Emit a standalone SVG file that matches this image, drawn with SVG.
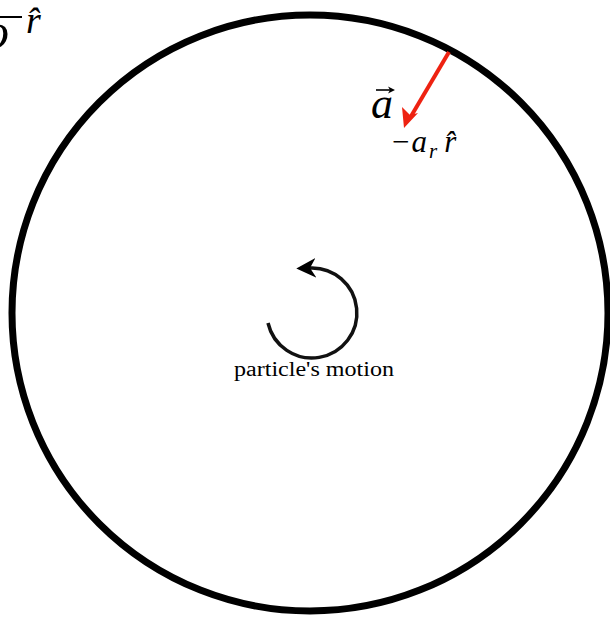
<svg xmlns="http://www.w3.org/2000/svg" width="610" height="620" viewBox="0 0 610 620">
<defs>
<style>
.m{font-family:"Liberation Serif","DejaVu Serif",serif;font-style:italic;fill:#000}
.t{font-family:"Liberation Serif","DejaVu Serif",serif;fill:#000}
</style>
<marker id="ah" viewBox="0 0 10 10" refX="3" refY="5" markerWidth="5.6" markerHeight="5.6" orient="auto" markerUnits="strokeWidth">
<path d="M0,0 L10,5 L0,10 L3,5 z" fill="#000"/>
</marker>
</defs>
<rect width="610" height="620" fill="#fff"/>
<g id="orbit">
<circle cx="310" cy="313" r="298" fill="none" stroke="#000" stroke-width="7"/>
</g>
<g id="topleft">
<text class="m" x="-16" y="48" font-size="50">o</text>
<line x1="0" y1="17" x2="22" y2="17" stroke="#000" stroke-width="2"/>
<text class="m" x="26" y="33" font-size="38">r̂</text>
</g>
<g id="connectors">
<line x1="449" y1="52" x2="410" y2="118" stroke="#ee2211" stroke-width="4"/>
<path d="M268 323 A45 45 0 1 0 310 268" fill="none" stroke="#111" stroke-width="3.5" marker-end="url(#ah)"/>
</g>
<g id="accel">
<path d="M404 128 L402 107 L410 115 L418 113 z" fill="#ee2211"/>
<line x1="376" y1="90" x2="393" y2="90" stroke="#000" stroke-width="1.6"/>
<path d="M395 90 L388 86.5 L390 90 L388 93.5 z" fill="#000"/>
<text class="m" x="371" y="118" font-size="44">a</text>
<text class="m" x="392" y="152" font-size="31"><tspan font-style="normal">−</tspan><tspan dx="2">a</tspan><tspan font-size="21" dx="2" dy="6">r</tspan><tspan dx="7" dy="-6">r̂</tspan></text>
</g>
<g id="motion">
<text class="t" x="314" y="376" font-size="20" text-anchor="middle" textLength="160" lengthAdjust="spacingAndGlyphs">particle's motion</text>
</g>
</svg>
